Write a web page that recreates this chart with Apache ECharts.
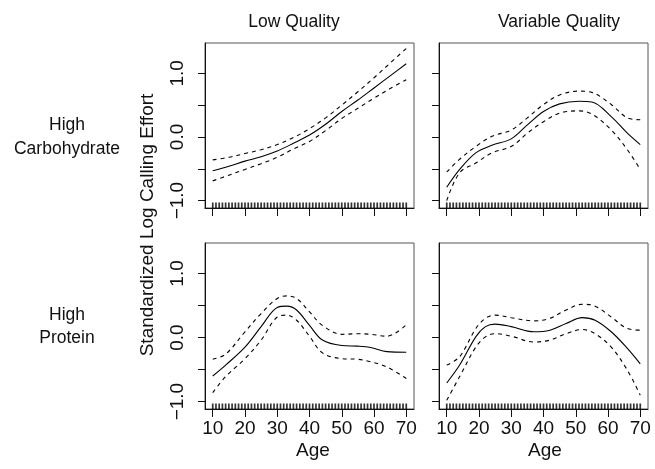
<!DOCTYPE html>
<html>
<head>
<meta charset="utf-8">
<script src="https://cdn.jsdelivr.net/npm/echarts@6/dist/echarts.min.js"></script>
<style>
html,body{margin:0;padding:0;background:#fff;}
#chart{width:655px;height:469px;}
</style>
</head>
<body>
<div id="chart"></div>
<script>
// ---- data ----
const colTitles = ['Low Quality', 'Variable Quality'];
const rowTitles = ['High\nCarbohydrate', 'High\nProtein'];
const yTitle = 'Standardized Log Calling Effort';
const xTitle = 'Age';
const xTickValues = [10, 20, 30, 40, 50, 60, 70];
const yTickValues = [-1, -0.5, 0, 0.5, 1];
const yLabelValues = [-1, 0, 1];
const rugAges = [10,11,12,13,14,15,16,17,18,19,20,21,22,23,24,25,26,27,28,29,30,31,32,33,34,35,36,37,38,39,40,41,42,43,44,45,46,47,48,49,50,51,52,53,54,55,56,57,58,59,60,61,62,63,64,65,66,67,68,69,70];

// Panel 1: Low Quality / High Carbohydrate
const p1Age   = [10, 15, 20, 25, 30, 35, 40, 45, 50, 55, 60, 65, 70];
const p1Fit   = [-0.53, -0.46, -0.38, -0.31, -0.22, -0.10, 0.03, 0.20, 0.40, 0.58, 0.77, 0.96, 1.15];
const p1Upper = [-0.36, -0.32, -0.26, -0.20, -0.12, -0.01, 0.13, 0.30, 0.50, 0.71, 0.93, 1.16, 1.39];
const p1Lower = [-0.69, -0.60, -0.51, -0.42, -0.32, -0.19, -0.07, 0.10, 0.29, 0.45, 0.61, 0.76, 0.90];

// Panel 2: Variable Quality / High Carbohydrate
const p2Age   = [10, 14, 19, 24, 30, 35, 40, 45, 51, 55, 61, 66, 70];
const p2Fit   = [-0.79, -0.51, -0.25, -0.13, -0.03, 0.19, 0.40, 0.52, 0.56, 0.55, 0.32, 0.06, -0.12];
const p2Upper = [-0.55, -0.35, -0.15, 0.01, 0.11, 0.30, 0.51, 0.66, 0.72, 0.70, 0.51, 0.30, 0.27];
const p2Lower = [-1.00, -0.56, -0.41, -0.25, -0.15, 0.06, 0.24, 0.375, 0.41, 0.36, 0.11, -0.20, -0.51];

// Panel 3: Low Quality / High Protein
const p3Age   = [10, 14, 20, 25, 30, 33, 36, 40, 44, 50, 55, 59, 64, 70];
const p3Fit   = [-0.60, -0.43, -0.15, 0.17, 0.47, 0.49, 0.43, 0.19, -0.04, -0.125, -0.135, -0.156, -0.22, -0.23];
const p3Upper = [-0.34, -0.26, 0.09, 0.375, 0.61, 0.65, 0.61, 0.40, 0.19, 0.05, 0.06, 0.05, 0.02, 0.20];
const p3Lower = [-0.86, -0.61, -0.33, -0.04, 0.32, 0.35, 0.27, 0.02, -0.24, -0.33, -0.34, -0.38, -0.46, -0.64];

// Panel 4: Variable Quality / High Protein
const p4Age   = [10, 14, 19, 22, 25, 30, 37, 42, 47, 52, 56, 61, 66, 70];
const p4Fit   = [-0.71, -0.43, 0.01, 0.17, 0.21, 0.17, 0.09, 0.115, 0.22, 0.31, 0.27, 0.09, -0.17, -0.41];
const p4Upper = [-0.43, -0.30, 0.14, 0.30, 0.35, 0.31, 0.26, 0.30, 0.43, 0.52, 0.49, 0.32, 0.14, 0.115];
const p4Lower = [-0.98, -0.61, -0.15, 0.01, 0.06, 0.02, -0.07, -0.04, 0.06, 0.125, 0.06, -0.15, -0.51, -0.90];

// axis ranges (R-style 4% padding)
const xMin = 7.6, xMax = 72.4;
const yMin = -1.116, yMax = 1.476;

// ---- build ----
const panels = [
  {age: p1Age, fit: p1Fit, up: p1Upper, lo: p1Lower},
  {age: p2Age, fit: p2Fit, up: p2Upper, lo: p2Lower},
  {age: p3Age, fit: p3Fit, up: p3Upper, lo: p3Lower},
  {age: p4Age, fit: p4Fit, up: p4Upper, lo: p4Lower}
];
const gridPos = [
  {left: 205, top: 43, width: 209, height: 165},
  {left: 439, top: 43, width: 209, height: 165},
  {left: 205, top: 243, width: 209, height: 166},
  {left: 439, top: 243, width: 209, height: 166}
];
const TXT = '#111';
const FONT = 'Liberation Sans, Arial, Helvetica, sans-serif';
const zip = (a, b) => a.map((v, i) => [v, b[i]]);

const grids = [], xAxes = [], yAxes = [], series = [];
panels.forEach((p, i) => {
  const g = gridPos[i];
  grids.push(Object.assign({show: true, borderColor: '#555', borderWidth: 1, backgroundColor: 'transparent'}, g));
  const bottomRow = i >= 2, leftCol = i % 2 === 0;
  xAxes.push({
    type: 'value', gridIndex: i, min: xMin, max: xMax,
    splitLine: {show: false},
    axisLine: {show: true, onZero: false, lineStyle: {color: '#111', width: 1}},
    axisTick: {show: true, length: 8, lineStyle: {color: '#111'}, customValues: xTickValues},
    axisLabel: {show: bottomRow, customValues: xTickValues, margin: 10, fontSize: 19, color: TXT, fontFamily: FONT}
  });
  yAxes.push({
    type: 'value', gridIndex: i, min: yMin, max: yMax,
    splitLine: {show: false},
    axisLine: {show: true, onZero: false, lineStyle: {color: '#111', width: 1}},
    axisTick: {show: true, length: 7, lineStyle: {color: '#111'}, customValues: yTickValues},
    axisLabel: {show: leftCol, customValues: yLabelValues, rotate: 90, margin: 18, fontSize: 19, color: TXT, fontFamily: FONT,
      formatter: v => (v < 0 ? '\u2212' : '') + Math.abs(v).toFixed(1)}
  });
  const base = {type: 'line', xAxisIndex: i, yAxisIndex: i, symbol: 'none', smooth: 0.35, silent: true, animation: false};
  series.push(Object.assign({}, base, {data: zip(p.age, p.fit), lineStyle: {color: '#000', width: 1.1}}));
  series.push(Object.assign({}, base, {data: zip(p.age, p.up), lineStyle: {color: '#000', width: 1.1, type: [4, 4]}}));
  series.push(Object.assign({}, base, {data: zip(p.age, p.lo), lineStyle: {color: '#000', width: 1.1, type: [4, 4]}}));
  series.push({
    type: 'scatter', xAxisIndex: i, yAxisIndex: i, silent: true, animation: false,
    symbol: 'rect', symbolSize: [1.7, 5.5], symbolOffset: [0, -2.75],
    itemStyle: {color: '#000'},
    data: rugAges.map(a => [a, yMin]), clip: false
  });
});

const textStyle = (size) => ({fill: TXT, fontSize: size, fontFamily: FONT, align: 'center', verticalAlign: 'middle'});
const graphic = [
  {type: 'text', x: 294, y: 22, style: Object.assign({text: colTitles[0]}, textStyle(17.5))},
  {type: 'text', x: 559, y: 22, style: Object.assign({text: colTitles[1]}, textStyle(17.5))},
  {type: 'text', x: 67, y: 137, style: Object.assign({text: rowTitles[0], lineHeight: 24}, textStyle(17.5))},
  {type: 'text', x: 67, y: 327, style: Object.assign({text: rowTitles[1], lineHeight: 23}, textStyle(17.5))},
  {type: 'text', x: 148, y: 225, rotation: Math.PI / 2, style: Object.assign({text: yTitle}, textStyle(19))},
  {type: 'text', x: 313, y: 451, style: Object.assign({text: xTitle}, textStyle(19))},
  {type: 'text', x: 545, y: 451, style: Object.assign({text: xTitle}, textStyle(19))}
];

const chart = echarts.init(document.getElementById('chart'), null, {renderer: 'canvas'});
chart.setOption({
  animation: false,
  backgroundColor: '#fff',
  grid: grids, xAxis: xAxes, yAxis: yAxes, series: series, graphic: graphic
});
</script>
</body>
</html>
